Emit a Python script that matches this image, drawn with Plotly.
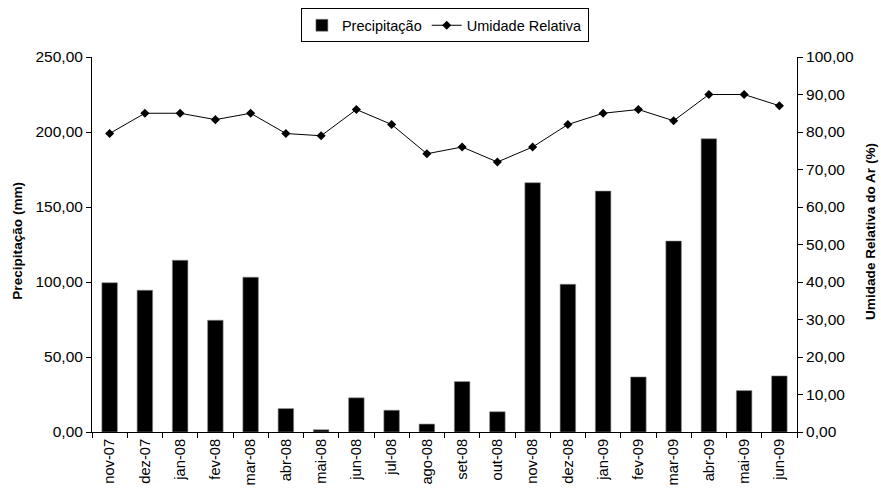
import plotly.graph_objects as go

months = ["nov-07", "dez-07", "jan-08", "fev-08", "mar-08", "abr-08", "mai-08", "jun-08",
          "jul-08", "ago-08", "set-08", "out-08", "nov-08", "dez-08", "jan-09", "fev-09",
          "mar-09", "abr-09", "mai-09", "jun-09"]
precipitacao = [99.5, 94.5, 114.5, 74.5, 103.2, 15.6, 1.5, 22.8, 14.5, 5.3,
                33.6, 13.5, 166.2, 98.5, 160.6, 36.7, 127.3, 195.5, 27.6, 37.4]
umidade = [79.6, 85.0, 85.0, 83.3, 85.0, 79.6, 79.0, 86.0, 82.0, 74.2,
           76.0, 72.0, 76.0, 82.0, 85.0, 86.0, 83.0, 90.0, 90.0, 87.0]

FAM = "Liberation Sans, Arial, sans-serif"
font = dict(family=FAM, size=15.5, color="black")

fig = go.Figure()
fig.add_trace(go.Bar(x=months, y=precipitacao, name="Precipitação",
                     marker=dict(color="black", line=dict(color="#888888", width=0.6)),
                     yaxis="y"))
fig.add_trace(go.Scatter(x=months, y=umidade, name="Umidade Relativa", mode="lines+markers",
                         line=dict(color="black", width=1),
                         marker=dict(symbol="diamond", size=7, color="black"),
                         yaxis="y2"))

fig.update_layout(
    width=881, height=490,
    margin=dict(l=92, r=84, t=57, b=58),
    paper_bgcolor="white", plot_bgcolor="white",
    font=font,
    separators=",.",
    bargap=0.56,
    showlegend=True,
    legend=dict(orientation="h", x=0.505, xanchor="center", xref="container",
                y=0.983, yref="container", yanchor="top",
                bordercolor="black", borderwidth=1,
                font=dict(size=14.5, family=FAM), itemwidth=30, tracegroupgap=0,
                traceorder="normal"),
    xaxis=dict(type="category", range=[-0.5, len(months) - 0.5],
               showline=True, linecolor="black", linewidth=1,
               ticks="outside", tickson="boundaries", ticklen=5, tickcolor="black",
               tickangle=-90, showgrid=False, zeroline=False, automargin=False,
               tickfont=dict(size=14.7)),
    yaxis=dict(range=[0, 250], dtick=50, tickformat=".2f", showline=True, linecolor="black",
               ticks="outside", ticklen=5, tickcolor="black", showgrid=False, zeroline=False,
               automargin=False, tickfont=dict(size=15.5)),
    yaxis2=dict(range=[0, 100], dtick=10, tickformat=".2f", overlaying="y", side="right",
                showline=True, linecolor="black", ticks="outside", ticklen=5, tickcolor="black",
                showgrid=False, zeroline=False, automargin=False,
                tickfont=dict(size=15.5)),
    annotations=[
        dict(text="<b>Precipitação (mm)</b>", xref="paper", yref="paper",
             x=-0.105, y=0.51, xanchor="center", yanchor="middle", textangle=-90,
             showarrow=False, font=dict(size=13.6, family=FAM, color="black")),
        dict(text="<b>Umidade Relativa do Ar (%)</b>", xref="paper", yref="paper",
             x=1.1035, y=0.536, xanchor="center", yanchor="middle", textangle=-90,
             showarrow=False, font=dict(size=13.6, family=FAM, color="black")),
    ],
)

fig.write_html("out.html", config={"displayModeBar": False},
               post_script="document.body.style.margin='0';")
